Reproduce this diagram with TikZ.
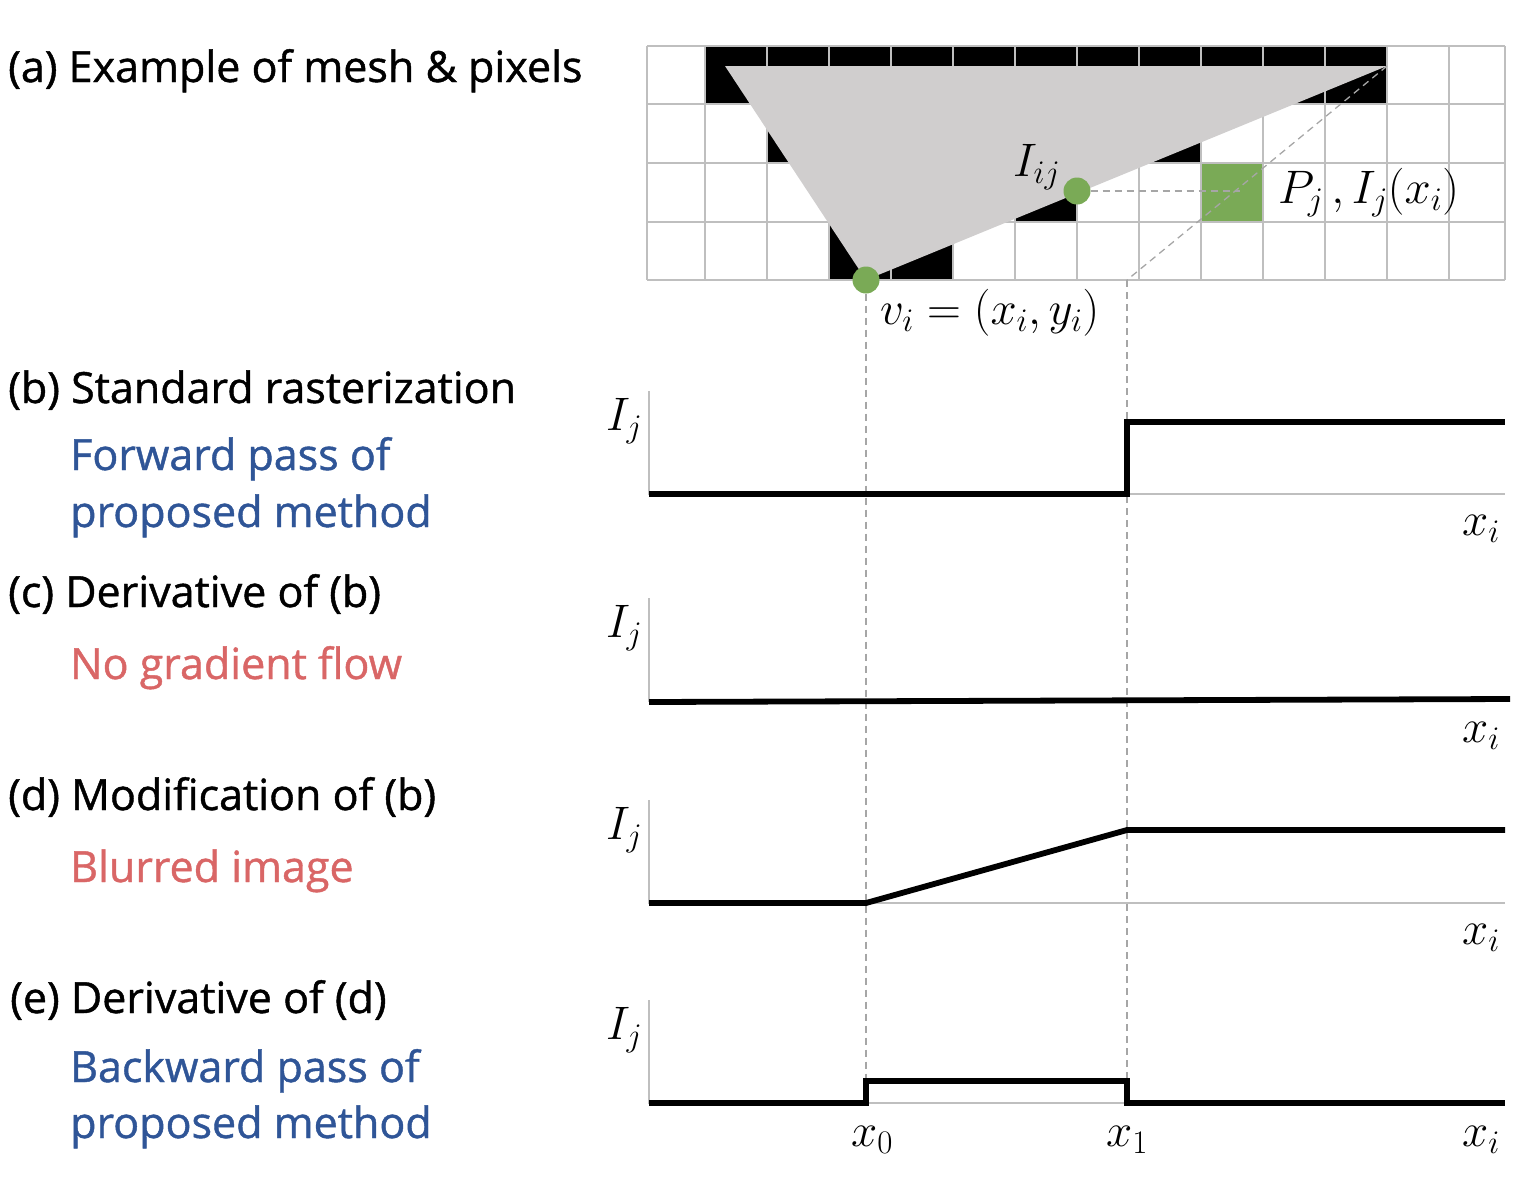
\RequirePackage{fix-cm}
\documentclass[tikz,border=0pt]{standalone}
\usepackage{fontspec}
\setmainfont[FakeBold=1]{Open Sans}
\definecolor{grn}{RGB}{122,170,86}
\definecolor{tri}{RGB}{208,206,206}
\definecolor{gridc}{RGB}{191,191,191}
\definecolor{dashc}{RGB}{166,166,166}
\definecolor{bluet}{RGB}{47,85,151}
\definecolor{redt}{RGB}{217,102,102}
\tikzset{
  lbl/.style={anchor=base west, inner sep=0pt, font=\fontsize{43}{50}\selectfont},
  mth/.style={anchor=base west, inner sep=0pt, font=\fontsize{47}{54}\selectfont},
  gridline/.style={draw=gridc, line width=1.2pt},
  axisline/.style={draw=gridc, line width=1.3pt},
  curve/.style={draw=black, line width=5.8pt, line join=miter},
  guide/.style={draw=dashc, line width=1.3pt, dash pattern=on 7pt off 5pt},
  dot/.style={circle, fill=grn, minimum size=27pt, inner sep=0pt},
}
\begin{document}
\begin{tikzpicture}[x=1pt,y=-1pt]
\useasboundingbox (0,0) rectangle (1530,1200);
% ---- pixel grid ----
\fill[black] (705,46) rectangle (1387,104);
\fill[black] (767,104) rectangle (829,163);
\fill[black] (1139,104) rectangle (1201,163);
\fill[black] (1015,163) rectangle (1077,222);
\fill[black] (829,222) rectangle (953,280);
\fill[grn] (1201,163) rectangle (1263,222);
\foreach \x in {647,705,767,829,891,953,1015,1077,1139,1201,1263,1325,1387,1449,1505}
  \draw[gridline] (\x,46) -- (\x,280);
\foreach \y in {46,104,163,222,280}
  \draw[gridline] (647,\y) -- (1505,\y);
% ---- triangle ----
\coordinate (A) at (725,66);
\coordinate (B) at (1387,66);
\coordinate (C) at (866,280);
\fill[tri] (A) -- (B) -- (C) -- cycle;
% ---- guides ----
\coordinate (pe) at (1240,191);
\coordinate (x1top) at (1127,280);
\coordinate (x0bot) at (866,1103);
\coordinate (x1bot) at (1127,1103);
\node[dot] (vi) at (866,280) {};
\node[dot] (pij) at (1077,191) {};
\draw[guide] (pij) -- (pe);
\draw[guide] (B) -- (x1top);
\draw[guide] (vi) -- (x0bot);
\draw[guide] (x1top) -- (x1bot);
% ---- plot (b) ----
\draw[axisline] (649,391) -- (649,494) -- (1505,494);
\draw[curve] (649,494) -- (1127,494) -- (1127,422) -- (1505,422);
% ---- plot (c) ----
\draw[axisline] (649,598) -- (649,701) -- (1505,701);
\draw[curve] (649,702) -- (1510,699);
% ---- plot (d) ----
\draw[axisline] (649,800) -- (649,903) -- (1505,903);
\draw[curve] (649,903) -- (866,903) -- (1127,830) -- (1505,830);
% ---- plot (e) ----
\draw[axisline] (649,1000) -- (649,1103) -- (1505,1103);
\draw[curve] (649,1103) -- (866,1103) -- (866,1081) -- (1127,1081) -- (1127,1103) -- (1505,1103);
% ---- left texts ----
\node[lbl] (ta) at (8,82) {(a) Example of mesh \& pixels};
\node[lbl] (tb) at (8,403) {(b) Standard rasterization};
\node[lbl, text=bluet] (tb1) at (70,470) {Forward pass of};
\node[lbl, text=bluet] (tb2) at (70,527) {proposed method};
\node[lbl] (tc) at (8,607) {(c) Derivative of (b)};
\node[lbl, text=redt] (tc1) at (70,679) {No gradient flow};
\node[lbl] (td) at (8,810) {(d) Modification of (b)};
\node[lbl, text=redt] (td1) at (70,882) {Blurred image};
\node[lbl] (te) at (10,1013) {(e) Derivative of (d)};
\node[lbl, text=bluet] (te1) at (70,1082) {Backward pass of};
\node[lbl, text=bluet] (te2) at (70,1138) {proposed method};
% ---- math labels ----
\node[mth] (Ib) at (606,430) {$I_j$};
\node[mth] (Ic) at (606,637) {$I_j$};
\node[mth] (Id) at (606,839) {$I_j$};
\node[mth] (Ie) at (606,1039) {$I_j$};
\node[mth] (xb) at (1462,535) {$x_i$};
\node[mth] (xc) at (1462,742) {$x_i$};
\node[mth] (xd) at (1462,944) {$x_i$};
\node[mth] (xe) at (1462,1146) {$x_i$};
\node[mth] (xzero) at (851,1146) {$x_0$};
\node[mth] (xone) at (1106,1146) {$x_1$};
\node[mth] (lij) at (1013,176) {$I_{ij}$};
\node[mth] (lP) at (1278,203) {$P_j\,, I_j(x_i)$};
\node[mth] (lv) at (880,324) {$v_i = (x_i, y_i)$};
\end{tikzpicture}
\end{document}
